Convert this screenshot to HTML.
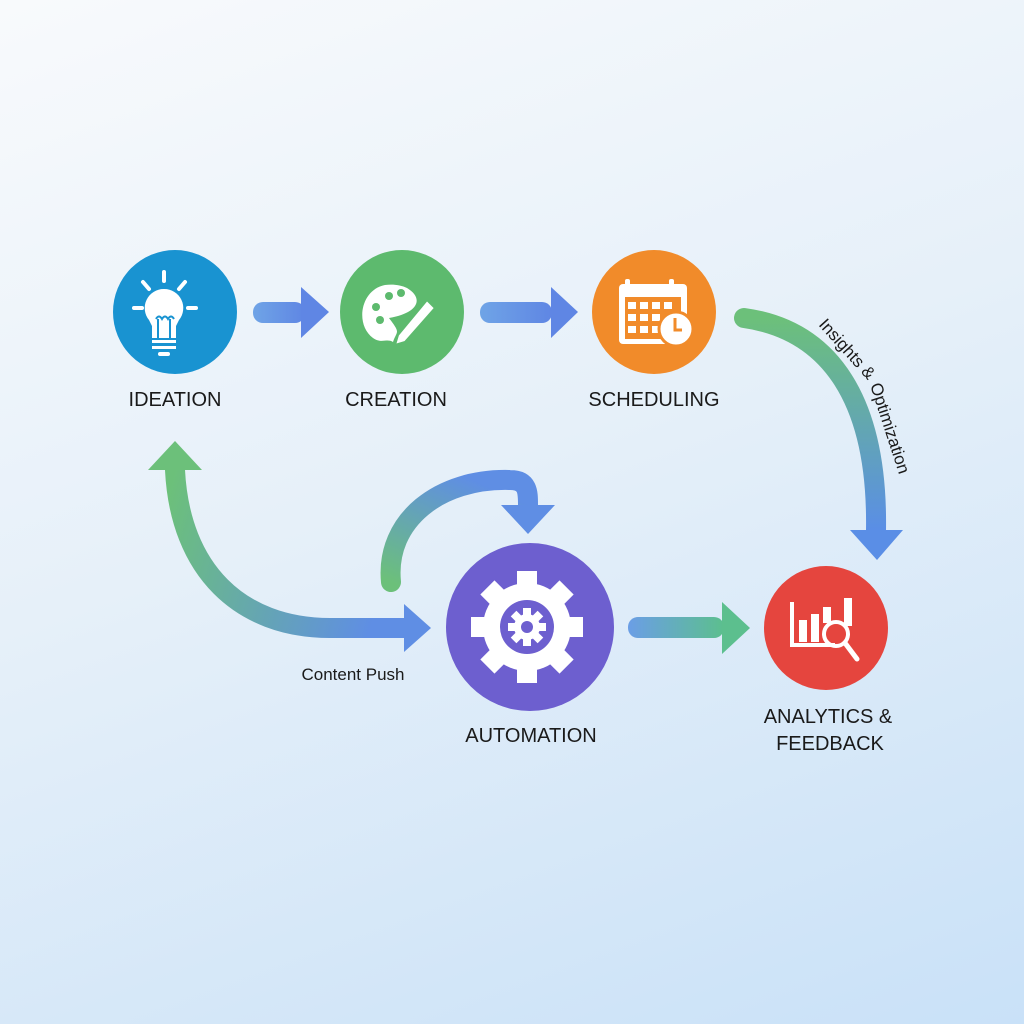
<!DOCTYPE html>
<html><head><meta charset="utf-8"><style>
html,body{margin:0;padding:0;width:1024px;height:1024px;overflow:hidden}
body{background:linear-gradient(160deg,#f8fafc 0%,#e6f0f9 45%,#c9e1f8 100%)}
svg{position:absolute;left:0;top:0}
text{font-family:"Liberation Sans",sans-serif;fill:#1a1a1a}
</style></head><body>
<svg width="1024" height="1024" viewBox="0 0 1024 1024">
<defs>
<linearGradient id="bb" x1="0" x2="1"><stop offset="0" stop-color="#6fa4e6"/><stop offset="1" stop-color="#5f86e4"/></linearGradient>
<linearGradient id="bg2" x1="0" x2="1"><stop offset="0" stop-color="#6b9ee6"/><stop offset="1" stop-color="#5cbf8e"/></linearGradient>
<linearGradient id="gv" x1="0" y1="0" x2="0" y2="1"><stop offset="0" stop-color="#6cc07a"/><stop offset="1" stop-color="#5a8ee6"/></linearGradient>
<linearGradient id="lc" x1="0" y1="0" x2="1" y2="0.2"><stop offset="0" stop-color="#6cc07a"/><stop offset="1" stop-color="#5f8ee4"/></linearGradient>
<linearGradient id="mc" x1="0" y1="1" x2="0.6" y2="0"><stop offset="0" stop-color="#6cc07a"/><stop offset="1" stop-color="#5f8ee4"/></linearGradient>
<radialGradient id="sh"><stop offset="0.85" stop-color="#000" stop-opacity="0.08"/><stop offset="1" stop-color="#000" stop-opacity="0"/></radialGradient>
</defs>

<!-- straight arrows -->
<rect x="253" y="302" width="52" height="21" rx="10" fill="url(#bb)"/>
<polygon points="301,287 329,312 301,338" fill="#5f86e4"/>
<rect x="480" y="302" width="72" height="21" rx="10" fill="url(#bb)"/>
<polygon points="551,287 578,312 551,338" fill="#5f86e4"/>
<rect x="628" y="617" width="96" height="21" rx="10" fill="url(#bg2)"/>
<polygon points="722,602 750,628 722,654" fill="#5cbf8e"/>

<!-- right curve -->
<path d="M744,318 C830,330 878,400 876,530" fill="none" stroke="url(#gv)" stroke-width="20" stroke-linecap="round"/>
<polygon points="850,530 903,530 877,560" fill="#5a8ee6"/>
<text transform="translate(818,325) rotate(48)" font-size="17">Insights &amp;</text>
<text transform="translate(870,385) rotate(72)" font-size="17">Optimization</text>

<!-- left curve -->
<path d="M175,470 C180,570 240,628 330,628 L408,628" fill="none" stroke="url(#lc)" stroke-width="20" stroke-linecap="round"/>
<polygon points="148,470 175,441 202,470" fill="#6cc07a"/>
<polygon points="404,604 431,628 404,652" fill="#5f8ee4"/>
<text x="353" y="680" font-size="17" text-anchor="middle">Content Push</text>

<!-- mid curve -->
<path d="M391,582 C385,520 440,478 510,480 C528,480 528,492 528,505" fill="none" stroke="url(#mc)" stroke-width="20" stroke-linecap="round"/>
<polygon points="501,505 555,505 528,534" fill="#5f8ee4"/>

<!-- nodes -->
<circle cx="175" cy="312" r="62" fill="#1993d1"/>
<circle cx="402" cy="312" r="62" fill="#5dba6e"/>
<circle cx="654" cy="312" r="62" fill="#f18b2a"/>
<circle cx="530" cy="627" r="84" fill="#6d5fcf"/>
<circle cx="826" cy="628" r="62" fill="#e5453e"/>

<!-- bulb -->
<g fill="none" stroke="#fff" stroke-width="4" stroke-linecap="round">
<line x1="164" y1="272" x2="164" y2="281"/><line x1="143" y1="282" x2="149" y2="289"/><line x1="185" y1="282" x2="179" y2="289"/>
<line x1="134" y1="308" x2="142" y2="308"/><line x1="188" y1="308" x2="196" y2="308"/>
</g>
<path d="M164,289 a19,19 0 0 1 15,31 l-3,6 v12 h-24 v-12 l-3,-6 a19,19 0 0 1 15,-31z" fill="#fff"/>
<path d="M158,339 v-20 m12,20 v-20 m-14,0 q3,-5 6,0 q3,-5 6,0 q3,-5 6,0" stroke="#1993d1" stroke-width="2" fill="none"/>
<rect x="152" y="340" width="24" height="3" fill="#fff"/><rect x="152" y="346" width="24" height="3" fill="#fff"/>
<rect x="158" y="352" width="12" height="4" rx="2" fill="#fff"/>

<!-- palette -->
<path d="M385,285 c-25,5 -30,40 -12,53 c8,6 14,0 20,4 c4,-12 8,-8 -4,-24 c30,-5 35,-20 18,-30 c-6,-3 -14,-4 -22,-3z" fill="#fff"/>
<circle cx="343" cy="0" r="0"/>
<circle cx="343" cy="0" r="0"/>
<g fill="#5dba6e"><circle cx="342" cy="0" r="0"/></g>
<g fill="#5dba6e"><circle cx="344" cy="294" r="0"/><circle cx="376" cy="307" r="4"/><circle cx="380" cy="320" r="4"/><circle cx="389" cy="296" r="4"/><circle cx="401" cy="293" r="4"/></g>
<path d="M427,300 l8,8 l-30,34 l-10,3 l3,-10z" fill="#fff" stroke="#5dba6e" stroke-width="2"/>

<!-- calendar -->
<rect x="619" y="284" width="68" height="60" rx="4" fill="#fff"/>
<rect x="625" y="297" width="56" height="42" fill="#f18b2a"/>
<g fill="#fff">
<rect x="628" y="302" width="8" height="7"/><rect x="640" y="302" width="8" height="7"/><rect x="652" y="302" width="8" height="7"/><rect x="664" y="302" width="8" height="7"/>
<rect x="628" y="314" width="8" height="7"/><rect x="640" y="314" width="8" height="7"/><rect x="652" y="314" width="8" height="7"/>
<rect x="628" y="326" width="8" height="7"/><rect x="640" y="326" width="8" height="7"/><rect x="652" y="326" width="8" height="7"/>
<rect x="625" y="279" width="5" height="10" rx="2"/><rect x="669" y="279" width="5" height="10" rx="2"/>
</g>
<circle cx="676" cy="329" r="17" fill="#fff" stroke="#f18b2a" stroke-width="3"/>
<path d="M675,318 v12 h7" stroke="#f18b2a" stroke-width="3" fill="none"/>

<!-- gear -->
<g transform="translate(527,627)" fill="#fff">
<circle r="44"/>
<g id="t"><rect x="-10" y="-56" width="20" height="18"/></g>
<use href="#t" transform="rotate(45)"/><use href="#t" transform="rotate(90)"/><use href="#t" transform="rotate(135)"/><use href="#t" transform="rotate(180)"/><use href="#t" transform="rotate(225)"/><use href="#t" transform="rotate(270)"/><use href="#t" transform="rotate(315)"/>
<circle r="27" fill="#6d5fcf"/>
<circle r="13"/>
<g id="u"><rect x="-4" y="-19" width="8" height="8"/></g>
<use href="#u" transform="rotate(45)"/><use href="#u" transform="rotate(90)"/><use href="#u" transform="rotate(135)"/><use href="#u" transform="rotate(180)"/><use href="#u" transform="rotate(225)"/><use href="#u" transform="rotate(270)"/><use href="#u" transform="rotate(315)"/>
<circle r="6" fill="#6d5fcf"/>
</g>

<!-- analytics -->
<g fill="#fff">
<rect x="790" y="602" width="4" height="44"/><rect x="790" y="643" width="45" height="4"/>
<rect x="799" y="620" width="8" height="22"/><rect x="811" y="614" width="8" height="28"/><rect x="823" y="607" width="8" height="16"/><rect x="844" y="598" width="8" height="28"/>
</g>
<circle cx="836" cy="634" r="12" fill="none" stroke="#fff" stroke-width="4"/>
<line x1="845" y1="643" x2="857" y2="659" stroke="#fff" stroke-width="5" stroke-linecap="round"/>

<!-- labels -->
<g font-size="20" text-anchor="middle">
<text x="175" y="406">IDEATION</text>
<text x="396" y="406">CREATION</text>
<text x="654" y="406">SCHEDULING</text>
<text x="531" y="742">AUTOMATION</text>
<text x="828" y="723">ANALYTICS &amp;</text>
<text x="830" y="750">FEEDBACK</text>
</g>
</svg>
</body></html>
